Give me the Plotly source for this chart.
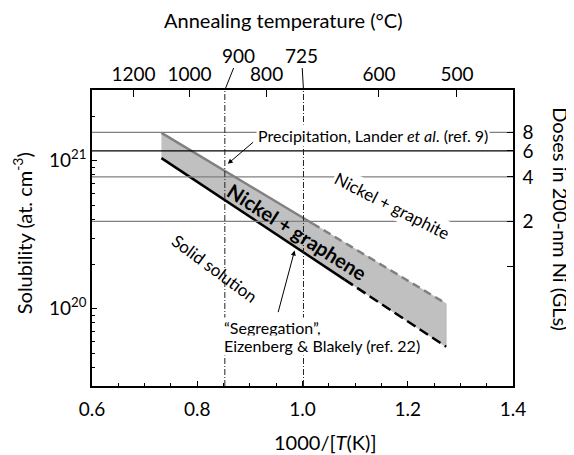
import numpy as np
import plotly.graph_objects as go

# ---------------- data ----------------
# band limits (1000/T, solubility at.cm^-3); index 1 = start of dashed extrapolation
upper_x = [0.732, 1.019, 1.273]          # Precipitation, Lander et al.
upper_y = [1.54e21, 3.76e20, 1.08e20]
lower_x = [0.732, 1.080, 1.273]          # Segregation, Eizenberg & Blakely
lower_y = [1.04e21, 1.57e20, 5.52e19]

dose_lines = [8, 6, 4, 2]                 # GLs horizontal reference lines
dose_ticks = [1, 2, 4, 6, 8]
dose_ticktext = ["", "2", "4", "6", "8"]
GL_DENSITY = 1.94e20                      # at.cm^-3 per graphene layer in 200 nm Ni

top_temps = [1200, 1000, 800, 600, 500]   # degC
marked_temps = [900, 725]                 # degC

bottom_ticks = [0.6, 0.8, 1.0, 1.2, 1.4]
left_ticks = [1e20, 1e21]
left_ticktext = ["10<sup>20</sup>", "10<sup>21</sup>"]

Y_MIN, Y_MAX = 3e19, 3e21
X_MIN, X_MAX = 0.6, 1.4

def inv_t(tc):
    return 1000.0 / (tc + 273.15)

FONT = "Lato"
GRAY = "#808080"

fig = go.Figure()

# filled band
fig.add_trace(go.Scatter(
    x=upper_x + lower_x[::-1], y=upper_y + lower_y[::-1],
    fill="toself", fillcolor="#c0c0c0", line=dict(width=0.6, color="#aaaaaa"),
    mode="lines", hoverinfo="skip", showlegend=False))

# upper limit (gray): solid then dashed
fig.add_trace(go.Scatter(x=upper_x[:2], y=upper_y[:2], mode="lines",
                         line=dict(color=GRAY, width=2.5), showlegend=False))
fig.add_trace(go.Scatter(x=upper_x[1:], y=upper_y[1:], mode="lines",
                         line=dict(color=GRAY, width=2.5, dash="8px,5px"), showlegend=False))
# lower limit (black): solid then dashed
fig.add_trace(go.Scatter(x=lower_x[:2], y=lower_y[:2], mode="lines",
                         line=dict(color="black", width=2.5), showlegend=False))
fig.add_trace(go.Scatter(x=lower_x[1:], y=lower_y[1:], mode="lines",
                         line=dict(color="black", width=2.5, dash="10px,5px"), showlegend=False))

# horizontal dose lines on right axis
for d in dose_lines:
    col = "black" if d == 6 else GRAY
    fig.add_trace(go.Scatter(x=[X_MIN, X_MAX], y=[d, d], mode="lines", yaxis="y2",
                             line=dict(color=col, width=1.3), showlegend=False,
                             hoverinfo="skip"))

# invisible trace to activate top axis
fig.add_trace(go.Scatter(x=[X_MIN, X_MAX], y=[Y_MIN, Y_MAX], xaxis="x2", mode="markers",
                         marker=dict(opacity=0), showlegend=False, hoverinfo="skip"))

# vertical dash-dot lines at marked temperatures
for t in marked_temps:
    fig.add_shape(type="line", x0=inv_t(t), x1=inv_t(t), xref="x", yref="paper",
                  y0=0, y1=1, line=dict(color="#222222", width=1, dash="6px,2px,1px,2px"))

annos = []
# 900 / 725 labels connected to top axis
for t, ax in zip(marked_temps, [14, -2]):
    annos.append(dict(x=inv_t(t), y=1, xref="x", yref="paper", text=str(t),
                      showarrow=True, arrowhead=0, arrowwidth=1, arrowcolor="black",
                      ax=ax, ay=-35, standoff=0, font=dict(size=19, family=FONT, color="black")))

ann_font = dict(family=FONT, color="black")
annos += [
    dict(x=0.912, y=np.log10(8 * GL_DENSITY), xref="x", yref="y", xanchor="left",
         yanchor="middle", yshift=-3, showarrow=False, bgcolor="white", borderpad=1,
         text="Precipitation, Lander <i>et al</i>. (ref. 9)", font=dict(size=16, **ann_font)),
    dict(x=1.1695, y=np.log10(4.96e20), xref="x", yref="y", textangle=27, showarrow=False,
         bgcolor="white", borderpad=1, text="Nickel + graphite", font=dict(size=17, **ann_font)),
    dict(x=0.991, y=np.log10(3.3e20), xref="x", yref="y", textangle=32.5, showarrow=False,
         text="<b>Nickel + graphene</b>", font=dict(size=20, **ann_font)),
    dict(x=0.833, y=np.log10(1.86e20), xref="x", yref="y", textangle=36.5, showarrow=False,
         text="Solid solution", font=dict(size=17, **ann_font)),
    dict(x=0.849, y=np.log10(7.45e19), xref="x", yref="y", xanchor="left", yanchor="middle",
         showarrow=False, bgcolor="white", borderpad=0,
         text="\u201cSegregation\u201d,", font=dict(size=16, **ann_font)),
    dict(x=0.849, y=np.log10(5.6e19), xref="x", yref="y", xanchor="left", yanchor="middle",
         showarrow=False, bgcolor="white", borderpad=0,
         text="Eizenberg &amp; Blakely (ref. 22)", font=dict(size=16, **ann_font)),
    # arrows
    dict(x=0.858, y=20.978, ax=0.909, ay=21.133, xref="x", yref="y", axref="x", ayref="y",
         showarrow=True, arrowhead=2, arrowsize=1, arrowwidth=1, arrowcolor="black",
         text="", standoff=0),
    dict(x=0.985, y=20.393, ax=0.953, ay=19.966, xref="x", yref="y", axref="x", ayref="y",
         showarrow=True, arrowhead=2, arrowsize=1, arrowwidth=1, arrowcolor="black",
         text="", standoff=0),
    # axis titles
    dict(x=0.455, y=1.238, xref="paper", yref="paper", showarrow=False,
         xanchor="center", yanchor="middle",
         text="Annealing temperature (°C)", font=dict(size=20, **ann_font)),
    dict(x=0.5546, y=-0.19, xref="paper", yref="paper", showarrow=False,
         xanchor="center", yanchor="middle",
         text="1000/[<i>T</i>(K)]", font=dict(size=20, **ann_font)),
    dict(x=-0.167, y=0.515, xref="paper", yref="paper", showarrow=False, textangle=-90,
         xanchor="center", yanchor="middle",
         text="Solubility (at. cm<sup>-3</sup>)", font=dict(size=20, **ann_font)),
    dict(x=1.115, y=0.562, xref="paper", yref="paper", showarrow=False, textangle=90,
         xanchor="center", yanchor="middle",
         text="Doses in 200-nm Ni (GLs)", font=dict(size=20, **ann_font)),
]

tickfont = dict(family=FONT, size=19, color="black")
axis_common = dict(showline=True, linecolor="black", linewidth=1.6, showgrid=False,
                   zeroline=False, ticks="inside", tickcolor="black", tickfont=tickfont)

minor_left = [m * 10.0 ** e for e in (19, 20, 21) for m in range(2, 10)
              if Y_MIN <= m * 10.0 ** e <= Y_MAX]

# margins compensate the page's 8 px body offset
fig.update_layout(
    width=574, height=455, autosize=False,
    margin=dict(l=84, r=69, t=82, b=77),
    paper_bgcolor="white", plot_bgcolor="white",
    showlegend=False, annotations=annos,
    font=dict(family=FONT, size=19, color="black"),
    xaxis=dict(range=[X_MIN, X_MAX], tickmode="array", tickvals=bottom_ticks,
               ticktext=["%.1f" % v for v in bottom_ticks], ticklen=5, tickwidth=1,
               ticklabelstandoff=5,
               minor=dict(ticks="inside", dtick=0.05, tick0=0.6, ticklen=3,
                          tickcolor="black", showgrid=False),
               **axis_common),
    xaxis2=dict(range=[X_MIN, X_MAX], overlaying="x", side="top", anchor="y",
                tickmode="array", tickvals=[inv_t(t) for t in top_temps],
                ticktext=[str(t) for t in top_temps], ticklen=7, tickwidth=1,
                **axis_common),
    yaxis=dict(type="log", range=[np.log10(Y_MIN), np.log10(Y_MAX)], tickmode="array",
               tickvals=left_ticks, ticktext=left_ticktext, ticklen=5, tickwidth=1,
               minor=dict(ticks="inside", tickmode="array", tickvals=minor_left, ticklen=3,
                          tickcolor="black", showgrid=False),
               **axis_common),
    yaxis2=dict(type="log", overlaying="y", side="right", anchor="x",
                range=[np.log10(Y_MIN / GL_DENSITY), np.log10(Y_MAX / GL_DENSITY)],
                tickmode="array", tickvals=dose_ticks, ticktext=dose_ticktext,
                ticklen=6, tickwidth=1, ticklabelstandoff=4, **axis_common),
)

fig.write_html("out.html")
